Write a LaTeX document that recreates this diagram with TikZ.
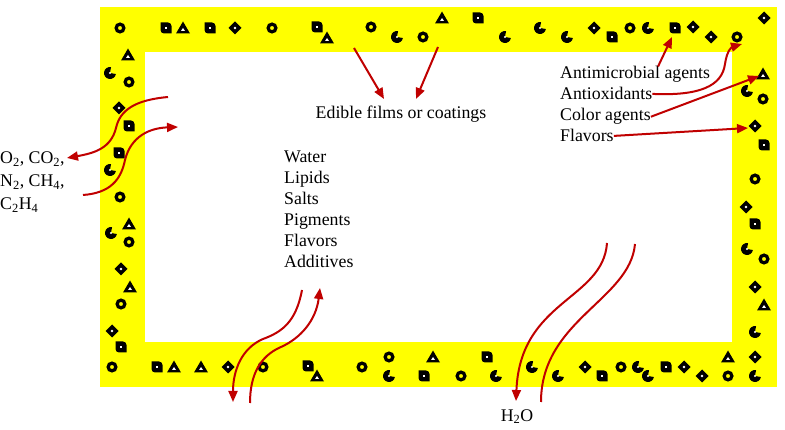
\documentclass[tikz,border=0pt]{standalone}
\usepackage{fontspec}
\setmainfont{Liberation Serif}
\usetikzlibrary{arrows.meta}
\definecolor{film}{HTML}{FFFF00}
\definecolor{flow}{HTML}{C00000}

\begin{document}
\begin{tikzpicture}[
  x=1pt, y=-1pt,
  txt/.style={inner sep=0pt, font=\fontsize{17.8}{21}\selectfont},
  arr/.style={line width=2pt, flow, -{Triangle[length=11pt, width=9pt]}},
  flowline/.style={line width=2pt, flow},
  ring/.pic={\fill[even odd rule] (0,0) circle[radius=5.6] (0,0) circle[radius=2.1];},
  sqsym/.pic={\fill (-5.5,-5.5) [rounded corners=3.5pt] -- (5.5,-5.5) [sharp corners] -- (5.5,5.5)
              [rounded corners=3.5pt] -- (-5.5,5.5) [sharp corners] -- cycle;
              \fill[white] (-1.3,-1.3) rectangle (1.3,1.3);},
  trisym/.pic={\fill (0,-6.5) -- (7,5.5) -- (-7,5.5) -- cycle;
               \fill[white] (0,0) -- (2,3) -- (-2,3) -- cycle;},
  diasym/.pic={\fill (0,-6.5) -- (6.5,0) -- (0,6.5) -- (-6.5,0) -- cycle;
               \fill[white] (0,0) circle[radius=1.3];},
  pacsym/.pic={\fill (0,0) -- (10:6) arc[start angle=10, end angle=280, radius=6] -- cycle;
               \fill[white] (0,0) circle[radius=1.2];},
]

\useasboundingbox (0,0) rectangle (785,430);

% film band
\fill[film] (100,7) rectangle (777,387);
\fill[white] (145,52) rectangle (732,342);

% particles in the film
\foreach \p in {(120,28),(272,28),(371,27),(423,37),(630,28),(737,37),(129,82),
  (120,197),(129,242),(121,304),(112,367),(263,367),(362,367),(389,357),(461,376),
  (621,367),(728,376),(763,99),(755,179),(764,259)}
  \pic at \p {ring};
\foreach \p in {(166,28),(210,28),(317,27),(478,18),(612,37),(675,28),(129,126),
  (119,153),(121,347),(157,367),(308,366),(424,376),(487,357),(602,376),(666,367),
  (764,145),(755,224)}
  \pic at \p {sqsym};
\foreach \p in {(183,28),(327,38),(442,18),(128,55),(129,224),(130,287),(174,367),
  (201,367),(317,376),(433,357),(728,357),(763,74),(764,305)}
  \pic at \p {trisym};
\foreach \p in {(235,28),(594,28),(693,27),(711,37),(764,18),(119,108),(121,269),
  (112,331),(228,367),(585,367),(684,367),(702,376),(755,357),(755,126),(746,207),
  (755,287)}
  \pic at \p {diasym};
\foreach \p in {(397,37),(505,37),(540,28),(567,37),(648,28),(110,73),(110,170),
  (111,233),(389,376),(496,376),(532,367),(558,376),(638,367),(648,376),(755,376),
  (755,332),(747,91),(747,249)}
  \pic at \p {pacsym};

% labels
\node[txt, anchor=base] (edible) at (401,119) {Edible films or coatings};
\foreach \t [count=\i] in {Water,Lipids,Salts,Pigments,Flavors,Additives}
  \node[txt, anchor=base west] (c\i) at (284,{163+21*(\i-1)}) {\t};
\node[txt, anchor=base west] (am) at (560,79) {Antimicrobial agents};
\node[txt, anchor=base west] (ao) at (560,100) {Antioxidants};
\node[txt, anchor=base west] (ca) at (560,121) {Color agents};
\node[txt, anchor=base west] (fl) at (560,142) {Flavors};
\node[txt, anchor=base west] (gas1) at (0,164) {O\textsubscript{2}, CO\textsubscript{2},};
\node[txt, anchor=base west] (gas2) at (0,187) {N\textsubscript{2}, CH\textsubscript{4},};
\node[txt, anchor=base west] (gas3) at (0,210) {C\textsubscript{2}H\textsubscript{4}};
\node[txt, anchor=base] (water) at (517,421) {H\textsubscript{2}O};

% arrow ends
\coordinate (top1) at (354,48);
\coordinate (top2) at (438,47);
\coordinate (edl) at (384,99);
\coordinate (edr) at (416,99);
\coordinate (gin) at (168,97);
\coordinate (gout) at (67,158);
\coordinate (gsrc) at (83,195);
\coordinate (gdst) at (178,127);
\coordinate (bl1) at (302,290);
\coordinate (bl2) at (233,402);
\coordinate (bl3) at (250,403);
\coordinate (bl4) at (320,288);
\coordinate (br1) at (607,243);
\coordinate (br2) at (516,401);
\coordinate (br3) at (541,402);
\coordinate (br4) at (635,244);
\coordinate (tsq) at (672,37);
\coordinate (tci) at (742,44);
\coordinate (ttr) at (759,76);
\coordinate (tdi) at (748,128);

% top arrows
\draw[arr] (top1) -- (edl);
\draw[arr] (top2) -- (edr);

% gases
\draw[arr] (gin) .. controls (135,100) and (120,110) .. (116,128)
  .. controls (111,148) and (95,153) .. (gout);
\draw[arr] (gsrc) .. controls (110,193) and (121,180) .. (125,160)
  .. controls (131,136) and (150,128) .. (gdst);

% components
\draw[arr] (bl1) .. controls (296,322) and (282,332) .. (263,339)
  .. controls (242,348) and (233,370) .. (bl2);
\draw[arr] (bl3) .. controls (250,375) and (260,356) .. (281,347)
  .. controls (301,338) and (316,320) .. (bl4);

% water vapour
\draw[arr] (br1) .. controls (603,300) and (520,300) .. (br2);
\draw[flowline] (br3) .. controls (541,320) and (630,300) .. (br4);

% active agents
\draw[arr] ([xshift=23pt]am.north) -- (tsq);
\draw[arr] (ao.east) .. controls (700,96) and (722,86) .. (725,64)
  .. controls (727,50) and (732,47) .. (tci);
\draw[arr] (ca.east) -- (ttr);
\draw[arr] (fl.east) -- (tdi);

\end{tikzpicture}
\end{document}
